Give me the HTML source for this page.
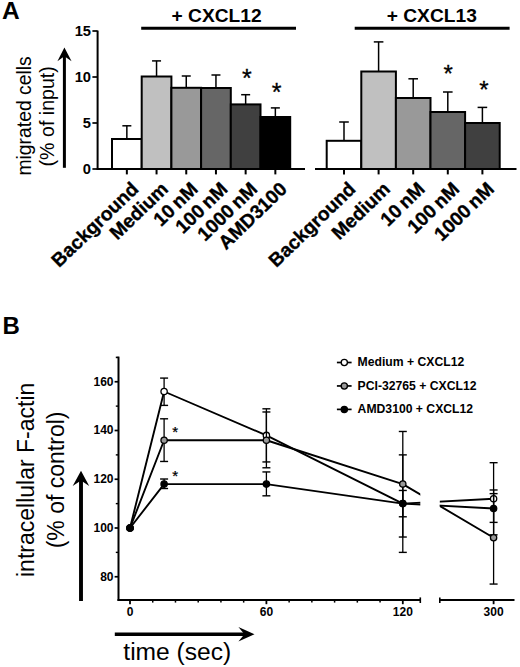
<!DOCTYPE html>
<html><head><meta charset="utf-8"><title>Figure</title>
<style>
html,body{margin:0;padding:0;background:#fff;}
body{width:520px;height:667px;overflow:hidden;}
svg{display:block;}
text{font-family:"Liberation Sans",sans-serif;fill:#000;}
.b{font-weight:bold;}
</style></head><body>
<svg width="520" height="667" viewBox="0 0 520 667">
<rect width="520" height="667" fill="#fff"/>

<text class="b" x="2" y="18.6" font-size="24.5">A</text>
<text transform="translate(30.7,175.6) rotate(-90)" font-size="19.35" x="0" y="0">migrated cells</text>
<text transform="translate(53.8,166.4) rotate(-90)" font-size="19.6" x="0" y="0">(% of input)</text>
<line x1="64.4" y1="167.8" x2="64.4" y2="52" stroke="#000" stroke-width="3"/>
<path d="M64.4 47.4 L71.6 61.2 L64.4 56.3 L57.4 61.2 Z" fill="#000"/>
<line x1="97.6" y1="30.6" x2="97.6" y2="170" stroke="#000" stroke-width="2"/>
<line x1="92.4" y1="169.00" x2="97.6" y2="169.00" stroke="#000" stroke-width="1.7"/>
<text class="b" x="91" y="174.10" font-size="14.7" text-anchor="end">0</text>
<line x1="92.4" y1="123.00" x2="97.6" y2="123.00" stroke="#000" stroke-width="1.7"/>
<text class="b" x="91" y="128.10" font-size="14.7" text-anchor="end">5</text>
<line x1="92.4" y1="77.00" x2="97.6" y2="77.00" stroke="#000" stroke-width="1.7"/>
<text class="b" x="91" y="82.10" font-size="14.7" text-anchor="end">10</text>
<line x1="92.4" y1="31.00" x2="97.6" y2="31.00" stroke="#000" stroke-width="1.7"/>
<text class="b" x="91" y="36.10" font-size="14.7" text-anchor="end">15</text>
<line x1="96.8" y1="169.0" x2="305" y2="169.0" stroke="#000" stroke-width="2"/>
<line x1="126.85" y1="139.0" x2="126.85" y2="125.8" stroke="#000" stroke-width="1.5"/>
<line x1="122.35" y1="125.8" x2="131.35" y2="125.8" stroke="#000" stroke-width="1.5"/>
<rect x="112.00" y="139.0" width="29.7" height="30.00" fill="#ffffff" stroke="#000" stroke-width="2"/>
<line x1="126.85" y1="169.0" x2="126.85" y2="174.4" stroke="#000" stroke-width="2"/>
<text class="b" transform="translate(139.65,190.4) rotate(-44)" font-size="19.2" word-spacing="-1.5" stroke="#000" stroke-width="0.35" text-anchor="end">Background</text>
<line x1="156.55" y1="76.5" x2="156.55" y2="60.9" stroke="#000" stroke-width="1.5"/>
<line x1="152.05" y1="60.9" x2="161.05" y2="60.9" stroke="#000" stroke-width="1.5"/>
<rect x="141.70" y="76.5" width="29.7" height="92.50" fill="#c0c0c0" stroke="#000" stroke-width="2"/>
<line x1="156.55" y1="169.0" x2="156.55" y2="174.4" stroke="#000" stroke-width="2"/>
<text class="b" transform="translate(169.35,190.4) rotate(-44)" font-size="19.2" word-spacing="-1.5" stroke="#000" stroke-width="0.35" text-anchor="end">Medium</text>
<line x1="186.25" y1="87.8" x2="186.25" y2="76.0" stroke="#000" stroke-width="1.5"/>
<line x1="181.75" y1="76.0" x2="190.75" y2="76.0" stroke="#000" stroke-width="1.5"/>
<rect x="171.40" y="87.8" width="29.7" height="81.20" fill="#999999" stroke="#000" stroke-width="2"/>
<line x1="186.25" y1="169.0" x2="186.25" y2="174.4" stroke="#000" stroke-width="2"/>
<text class="b" transform="translate(199.05,190.4) rotate(-44)" font-size="19.2" word-spacing="-1.5" stroke="#000" stroke-width="0.35" text-anchor="end">10 nM</text>
<line x1="215.95" y1="88.0" x2="215.95" y2="75.0" stroke="#000" stroke-width="1.5"/>
<line x1="211.45" y1="75.0" x2="220.45" y2="75.0" stroke="#000" stroke-width="1.5"/>
<rect x="201.10" y="88.0" width="29.7" height="81.00" fill="#666666" stroke="#000" stroke-width="2"/>
<line x1="215.95" y1="169.0" x2="215.95" y2="174.4" stroke="#000" stroke-width="2"/>
<text class="b" transform="translate(228.75,190.4) rotate(-44)" font-size="19.2" word-spacing="-1.5" stroke="#000" stroke-width="0.35" text-anchor="end">100 nM</text>
<line x1="245.65" y1="104.4" x2="245.65" y2="94.7" stroke="#000" stroke-width="1.5"/>
<line x1="241.15" y1="94.7" x2="250.15" y2="94.7" stroke="#000" stroke-width="1.5"/>
<rect x="230.80" y="104.4" width="29.7" height="64.60" fill="#404040" stroke="#000" stroke-width="2"/>
<line x1="245.65" y1="169.0" x2="245.65" y2="174.4" stroke="#000" stroke-width="2"/>
<text class="b" transform="translate(258.45,190.4) rotate(-44)" font-size="19.2" word-spacing="-1.5" stroke="#000" stroke-width="0.35" text-anchor="end">1000 nM</text>
<line x1="275.35" y1="117.0" x2="275.35" y2="107.9" stroke="#000" stroke-width="1.5"/>
<line x1="270.85" y1="107.9" x2="279.85" y2="107.9" stroke="#000" stroke-width="1.5"/>
<rect x="260.50" y="117.0" width="29.7" height="52.00" fill="#000000" stroke="#000" stroke-width="2"/>
<line x1="275.35" y1="169.0" x2="275.35" y2="174.4" stroke="#000" stroke-width="2"/>
<text class="b" transform="translate(288.15,190.4) rotate(-44)" font-size="19.2" word-spacing="-1.5" stroke="#000" stroke-width="0.35" text-anchor="end">AMD3100</text>
<line x1="141.2" y1="28.2" x2="296" y2="28.2" stroke="#000" stroke-width="3"/>
<text class="b" x="171.5" y="21.7" font-size="19.2">+ CXCL12</text>
<text x="246.9" y="87.4" font-size="25" text-anchor="middle" stroke="#000" stroke-width="0.3">*</text>
<text x="276.5" y="100.6" font-size="25" text-anchor="middle" stroke="#000" stroke-width="0.3">*</text>
<line x1="315" y1="169.0" x2="516.5" y2="169.0" stroke="#000" stroke-width="2"/>
<line x1="344.00" y1="140.8" x2="344.00" y2="122.0" stroke="#000" stroke-width="1.5"/>
<line x1="339.20" y1="122.0" x2="348.80" y2="122.0" stroke="#000" stroke-width="1.5"/>
<rect x="326.70" y="140.8" width="34.6" height="28.20" fill="#ffffff" stroke="#000" stroke-width="2"/>
<line x1="344.00" y1="169.0" x2="344.00" y2="174.4" stroke="#000" stroke-width="2"/>
<text class="b" transform="translate(356.80,190.4) rotate(-44)" font-size="19.2" word-spacing="-1.5" stroke="#000" stroke-width="0.35" text-anchor="end">Background</text>
<line x1="378.60" y1="71.5" x2="378.60" y2="41.9" stroke="#000" stroke-width="1.5"/>
<line x1="373.80" y1="41.9" x2="383.40" y2="41.9" stroke="#000" stroke-width="1.5"/>
<rect x="361.30" y="71.5" width="34.6" height="97.50" fill="#c0c0c0" stroke="#000" stroke-width="2"/>
<line x1="378.60" y1="169.0" x2="378.60" y2="174.4" stroke="#000" stroke-width="2"/>
<text class="b" transform="translate(391.40,190.4) rotate(-44)" font-size="19.2" word-spacing="-1.5" stroke="#000" stroke-width="0.35" text-anchor="end">Medium</text>
<line x1="413.20" y1="98.0" x2="413.20" y2="78.8" stroke="#000" stroke-width="1.5"/>
<line x1="408.40" y1="78.8" x2="418.00" y2="78.8" stroke="#000" stroke-width="1.5"/>
<rect x="395.90" y="98.0" width="34.6" height="71.00" fill="#999999" stroke="#000" stroke-width="2"/>
<line x1="413.20" y1="169.0" x2="413.20" y2="174.4" stroke="#000" stroke-width="2"/>
<text class="b" transform="translate(426.00,190.4) rotate(-44)" font-size="19.2" word-spacing="-1.5" stroke="#000" stroke-width="0.35" text-anchor="end">10 nM</text>
<line x1="447.80" y1="112.0" x2="447.80" y2="92.0" stroke="#000" stroke-width="1.5"/>
<line x1="443.00" y1="92.0" x2="452.60" y2="92.0" stroke="#000" stroke-width="1.5"/>
<rect x="430.50" y="112.0" width="34.6" height="57.00" fill="#666666" stroke="#000" stroke-width="2"/>
<line x1="447.80" y1="169.0" x2="447.80" y2="174.4" stroke="#000" stroke-width="2"/>
<text class="b" transform="translate(460.60,190.4) rotate(-44)" font-size="19.2" word-spacing="-1.5" stroke="#000" stroke-width="0.35" text-anchor="end">100 nM</text>
<line x1="482.40" y1="123.0" x2="482.40" y2="107.4" stroke="#000" stroke-width="1.5"/>
<line x1="477.60" y1="107.4" x2="487.20" y2="107.4" stroke="#000" stroke-width="1.5"/>
<rect x="465.10" y="123.0" width="34.6" height="46.00" fill="#404040" stroke="#000" stroke-width="2"/>
<line x1="482.40" y1="169.0" x2="482.40" y2="174.4" stroke="#000" stroke-width="2"/>
<text class="b" transform="translate(495.20,190.4) rotate(-44)" font-size="19.2" word-spacing="-1.5" stroke="#000" stroke-width="0.35" text-anchor="end">1000 nM</text>
<line x1="354.7" y1="28.2" x2="509.6" y2="28.2" stroke="#000" stroke-width="3"/>
<text class="b" x="386.7" y="21.7" font-size="19.2">+ CXCL13</text>
<text x="448.2" y="82.3" font-size="24" text-anchor="middle" stroke="#000" stroke-width="0.3">*</text>
<text x="483.9" y="97.6" font-size="24" text-anchor="middle" stroke="#000" stroke-width="0.3">*</text>
<text class="b" x="2.5" y="333.7" font-size="24">B</text>
<text transform="translate(34.1,577) rotate(-90)" font-size="23">intracellular F-actin</text>
<text transform="translate(63.8,548.3) rotate(-90)" font-size="23">(% of control)</text>
<line x1="81.0" y1="601" x2="81.0" y2="476" stroke="#000" stroke-width="3.9"/>
<path d="M81 470.8 L89.2 485.9 L81 480.6 L72.7 485.9 Z" fill="#000"/>
<line x1="118.5" y1="356.6" x2="118.5" y2="600.9" stroke="#000" stroke-width="2"/>
<line x1="115.8" y1="357.4" x2="118.5" y2="357.4" stroke="#000" stroke-width="1.6"/>
<line x1="114.6" y1="576.75" x2="118.5" y2="576.75" stroke="#000" stroke-width="1.7"/>
<text class="b" x="113.5" y="580.65" font-size="12" text-anchor="end">80</text>
<line x1="114.6" y1="528.00" x2="118.5" y2="528.00" stroke="#000" stroke-width="1.7"/>
<text class="b" x="113.5" y="531.90" font-size="12" text-anchor="end">100</text>
<line x1="114.6" y1="479.25" x2="118.5" y2="479.25" stroke="#000" stroke-width="1.7"/>
<text class="b" x="113.5" y="483.15" font-size="12" text-anchor="end">120</text>
<line x1="114.6" y1="430.50" x2="118.5" y2="430.50" stroke="#000" stroke-width="1.7"/>
<text class="b" x="113.5" y="434.40" font-size="12" text-anchor="end">140</text>
<line x1="114.6" y1="381.75" x2="118.5" y2="381.75" stroke="#000" stroke-width="1.7"/>
<text class="b" x="113.5" y="385.65" font-size="12" text-anchor="end">160</text>
<line x1="115.8" y1="552.38" x2="118.5" y2="552.38" stroke="#000" stroke-width="1.4"/>
<line x1="115.8" y1="503.62" x2="118.5" y2="503.62" stroke="#000" stroke-width="1.4"/>
<line x1="115.8" y1="454.88" x2="118.5" y2="454.88" stroke="#000" stroke-width="1.4"/>
<line x1="115.8" y1="406.12" x2="118.5" y2="406.12" stroke="#000" stroke-width="1.4"/>
<line x1="117.5" y1="600.0" x2="420.3" y2="600.0" stroke="#000" stroke-width="1.8"/>
<line x1="439.8" y1="600.0" x2="514.5" y2="600.0" stroke="#000" stroke-width="1.8"/>
<line x1="420.3" y1="597.4" x2="420.3" y2="603" stroke="#000" stroke-width="1.6"/>
<line x1="439.8" y1="597.4" x2="439.8" y2="603" stroke="#000" stroke-width="1.6"/>
<line x1="130.00" y1="600.0" x2="130.00" y2="604.2" stroke="#000" stroke-width="1.8"/>
<text class="b" x="130.00" y="615.7" font-size="12" text-anchor="middle">0</text>
<line x1="266.40" y1="600.0" x2="266.40" y2="604.2" stroke="#000" stroke-width="1.8"/>
<text class="b" x="266.40" y="615.7" font-size="12" text-anchor="middle">60</text>
<line x1="402.80" y1="600.0" x2="402.80" y2="604.2" stroke="#000" stroke-width="1.8"/>
<text class="b" x="402.80" y="615.7" font-size="12" text-anchor="middle">120</text>
<line x1="152.73" y1="600.0" x2="152.73" y2="602.6" stroke="#000" stroke-width="1.5"/>
<line x1="175.47" y1="600.0" x2="175.47" y2="602.6" stroke="#000" stroke-width="1.5"/>
<line x1="198.20" y1="600.0" x2="198.20" y2="602.6" stroke="#000" stroke-width="1.5"/>
<line x1="220.93" y1="600.0" x2="220.93" y2="602.6" stroke="#000" stroke-width="1.5"/>
<line x1="243.66" y1="600.0" x2="243.66" y2="602.6" stroke="#000" stroke-width="1.5"/>
<line x1="289.13" y1="600.0" x2="289.13" y2="602.6" stroke="#000" stroke-width="1.5"/>
<line x1="311.86" y1="600.0" x2="311.86" y2="602.6" stroke="#000" stroke-width="1.5"/>
<line x1="334.60" y1="600.0" x2="334.60" y2="602.6" stroke="#000" stroke-width="1.5"/>
<line x1="357.33" y1="600.0" x2="357.33" y2="602.6" stroke="#000" stroke-width="1.5"/>
<line x1="380.06" y1="600.0" x2="380.06" y2="602.6" stroke="#000" stroke-width="1.5"/>
<line x1="493.6" y1="600.0" x2="493.6" y2="604.2" stroke="#000" stroke-width="1.8"/>
<text class="b" x="493.6" y="615.7" font-size="12" text-anchor="middle">300</text>
<defs><clipPath id="cp"><rect x="0" y="340" width="420.3" height="280"/><rect x="439.8" y="340" width="90" height="280"/></clipPath></defs>
<path d="M130.00 528.00 L164.10 391.50 L266.40 435.38 L402.80 503.62 L493.60 498.75" fill="none" stroke="#000" stroke-width="1.9" stroke-linejoin="round" clip-path="url(#cp)"/>
<line x1="164.10" y1="378.09" x2="164.10" y2="405.39" stroke="#000" stroke-width="1.3"/>
<line x1="160.10" y1="378.09" x2="168.10" y2="378.09" stroke="#000" stroke-width="1.4"/>
<line x1="160.10" y1="405.39" x2="168.10" y2="405.39" stroke="#000" stroke-width="1.4"/>
<line x1="266.40" y1="408.81" x2="266.40" y2="461.94" stroke="#000" stroke-width="1.3"/>
<line x1="262.40" y1="408.81" x2="270.40" y2="408.81" stroke="#000" stroke-width="1.4"/>
<line x1="262.40" y1="461.94" x2="270.40" y2="461.94" stroke="#000" stroke-width="1.4"/>
<line x1="402.80" y1="454.88" x2="402.80" y2="552.38" stroke="#000" stroke-width="1.3"/>
<line x1="398.80" y1="454.88" x2="406.80" y2="454.88" stroke="#000" stroke-width="1.4"/>
<line x1="398.80" y1="552.38" x2="406.80" y2="552.38" stroke="#000" stroke-width="1.4"/>
<line x1="493.60" y1="462.68" x2="493.60" y2="534.83" stroke="#000" stroke-width="1.3"/>
<line x1="489.60" y1="462.68" x2="497.60" y2="462.68" stroke="#000" stroke-width="1.4"/>
<line x1="489.60" y1="534.83" x2="497.60" y2="534.83" stroke="#000" stroke-width="1.4"/>
<circle cx="130.00" cy="528.00" r="3.15" fill="#ffffff" stroke="#000" stroke-width="1.3"/>
<circle cx="164.10" cy="391.50" r="3.15" fill="#ffffff" stroke="#000" stroke-width="1.3"/>
<circle cx="266.40" cy="435.38" r="3.15" fill="#ffffff" stroke="#000" stroke-width="1.3"/>
<circle cx="402.80" cy="503.62" r="3.15" fill="#ffffff" stroke="#000" stroke-width="1.3"/>
<circle cx="493.60" cy="498.75" r="3.15" fill="#ffffff" stroke="#000" stroke-width="1.3"/>
<path d="M130.00 528.00 L164.10 440.25 L266.40 440.25 L402.80 484.12 L493.60 537.75" fill="none" stroke="#000" stroke-width="1.9" stroke-linejoin="round" clip-path="url(#cp)"/>
<line x1="164.10" y1="418.80" x2="164.10" y2="461.46" stroke="#000" stroke-width="1.3"/>
<line x1="160.10" y1="418.80" x2="168.10" y2="418.80" stroke="#000" stroke-width="1.4"/>
<line x1="160.10" y1="461.46" x2="168.10" y2="461.46" stroke="#000" stroke-width="1.4"/>
<line x1="266.40" y1="411.98" x2="266.40" y2="467.79" stroke="#000" stroke-width="1.3"/>
<line x1="262.40" y1="411.98" x2="270.40" y2="411.98" stroke="#000" stroke-width="1.4"/>
<line x1="262.40" y1="467.79" x2="270.40" y2="467.79" stroke="#000" stroke-width="1.4"/>
<line x1="402.80" y1="431.48" x2="402.80" y2="537.02" stroke="#000" stroke-width="1.3"/>
<line x1="398.80" y1="431.48" x2="406.80" y2="431.48" stroke="#000" stroke-width="1.4"/>
<line x1="398.80" y1="537.02" x2="406.80" y2="537.02" stroke="#000" stroke-width="1.4"/>
<line x1="493.60" y1="489.98" x2="493.60" y2="584.06" stroke="#000" stroke-width="1.3"/>
<line x1="489.60" y1="489.98" x2="497.60" y2="489.98" stroke="#000" stroke-width="1.4"/>
<line x1="489.60" y1="584.06" x2="497.60" y2="584.06" stroke="#000" stroke-width="1.4"/>
<circle cx="130.00" cy="528.00" r="3.15" fill="#999999" stroke="#000" stroke-width="1.3"/>
<circle cx="164.10" cy="440.25" r="3.15" fill="#999999" stroke="#000" stroke-width="1.3"/>
<circle cx="266.40" cy="440.25" r="3.15" fill="#999999" stroke="#000" stroke-width="1.3"/>
<circle cx="402.80" cy="484.12" r="3.15" fill="#999999" stroke="#000" stroke-width="1.3"/>
<circle cx="493.60" cy="537.75" r="3.15" fill="#999999" stroke="#000" stroke-width="1.3"/>
<path d="M130.00 528.00 L164.10 484.12 L266.40 484.12 L402.80 503.62 L493.60 508.50" fill="none" stroke="#000" stroke-width="1.9" stroke-linejoin="round" clip-path="url(#cp)"/>
<line x1="164.10" y1="479.01" x2="164.10" y2="488.51" stroke="#000" stroke-width="1.3"/>
<line x1="160.10" y1="479.01" x2="168.10" y2="479.01" stroke="#000" stroke-width="1.4"/>
<line x1="160.10" y1="488.51" x2="168.10" y2="488.51" stroke="#000" stroke-width="1.4"/>
<line x1="266.40" y1="471.94" x2="266.40" y2="495.82" stroke="#000" stroke-width="1.3"/>
<line x1="262.40" y1="471.94" x2="270.40" y2="471.94" stroke="#000" stroke-width="1.4"/>
<line x1="262.40" y1="495.82" x2="270.40" y2="495.82" stroke="#000" stroke-width="1.4"/>
<line x1="402.80" y1="490.46" x2="402.80" y2="516.79" stroke="#000" stroke-width="1.3"/>
<line x1="398.80" y1="490.46" x2="406.80" y2="490.46" stroke="#000" stroke-width="1.4"/>
<line x1="398.80" y1="516.79" x2="406.80" y2="516.79" stroke="#000" stroke-width="1.4"/>
<line x1="493.60" y1="493.63" x2="493.60" y2="522.39" stroke="#000" stroke-width="1.3"/>
<line x1="489.60" y1="493.63" x2="497.60" y2="493.63" stroke="#000" stroke-width="1.4"/>
<line x1="489.60" y1="522.39" x2="497.60" y2="522.39" stroke="#000" stroke-width="1.4"/>
<circle cx="130.00" cy="528.00" r="3.15" fill="#000000" stroke="#000" stroke-width="1.3"/>
<circle cx="164.10" cy="484.12" r="3.15" fill="#000000" stroke="#000" stroke-width="1.3"/>
<circle cx="266.40" cy="484.12" r="3.15" fill="#000000" stroke="#000" stroke-width="1.3"/>
<circle cx="402.80" cy="503.62" r="3.15" fill="#000000" stroke="#000" stroke-width="1.3"/>
<circle cx="493.60" cy="508.50" r="3.15" fill="#000000" stroke="#000" stroke-width="1.3"/>
<text x="175.2" y="437.2" font-size="15" text-anchor="middle" stroke="#000" stroke-width="0.25">*</text>
<text x="175.2" y="481.0" font-size="15" text-anchor="middle" stroke="#000" stroke-width="0.25">*</text>
<line x1="336.9" y1="362.50" x2="351.6" y2="362.50" stroke="#000" stroke-width="1.7"/>
<circle cx="344.3" cy="362.50" r="3.1" fill="#ffffff" stroke="#000" stroke-width="1.3"/>
<text class="b" x="357.6" y="366.30" font-size="12.2">Medium + CXCL12</text>
<line x1="336.9" y1="385.95" x2="351.6" y2="385.95" stroke="#000" stroke-width="1.7"/>
<circle cx="344.3" cy="385.95" r="3.1" fill="#999999" stroke="#000" stroke-width="1.3"/>
<text class="b" x="357.6" y="389.75" font-size="12.2">PCI-32765 + CXCL12</text>
<line x1="336.9" y1="409.40" x2="351.6" y2="409.40" stroke="#000" stroke-width="1.7"/>
<circle cx="344.3" cy="409.40" r="3.1" fill="#000000" stroke="#000" stroke-width="1.3"/>
<text class="b" x="357.6" y="413.20" font-size="12.2">AMD3100 + CXCL12</text>
<line x1="114.8" y1="634.2" x2="248" y2="634.2" stroke="#000" stroke-width="3.6"/>
<path d="M254.5 634.2 L238.4 627.0 L244.4 634.2 L238.4 641.5 Z" fill="#000"/>
<text x="123.3" y="659.6" font-size="24.6">time (sec)</text>
</svg></body></html>
